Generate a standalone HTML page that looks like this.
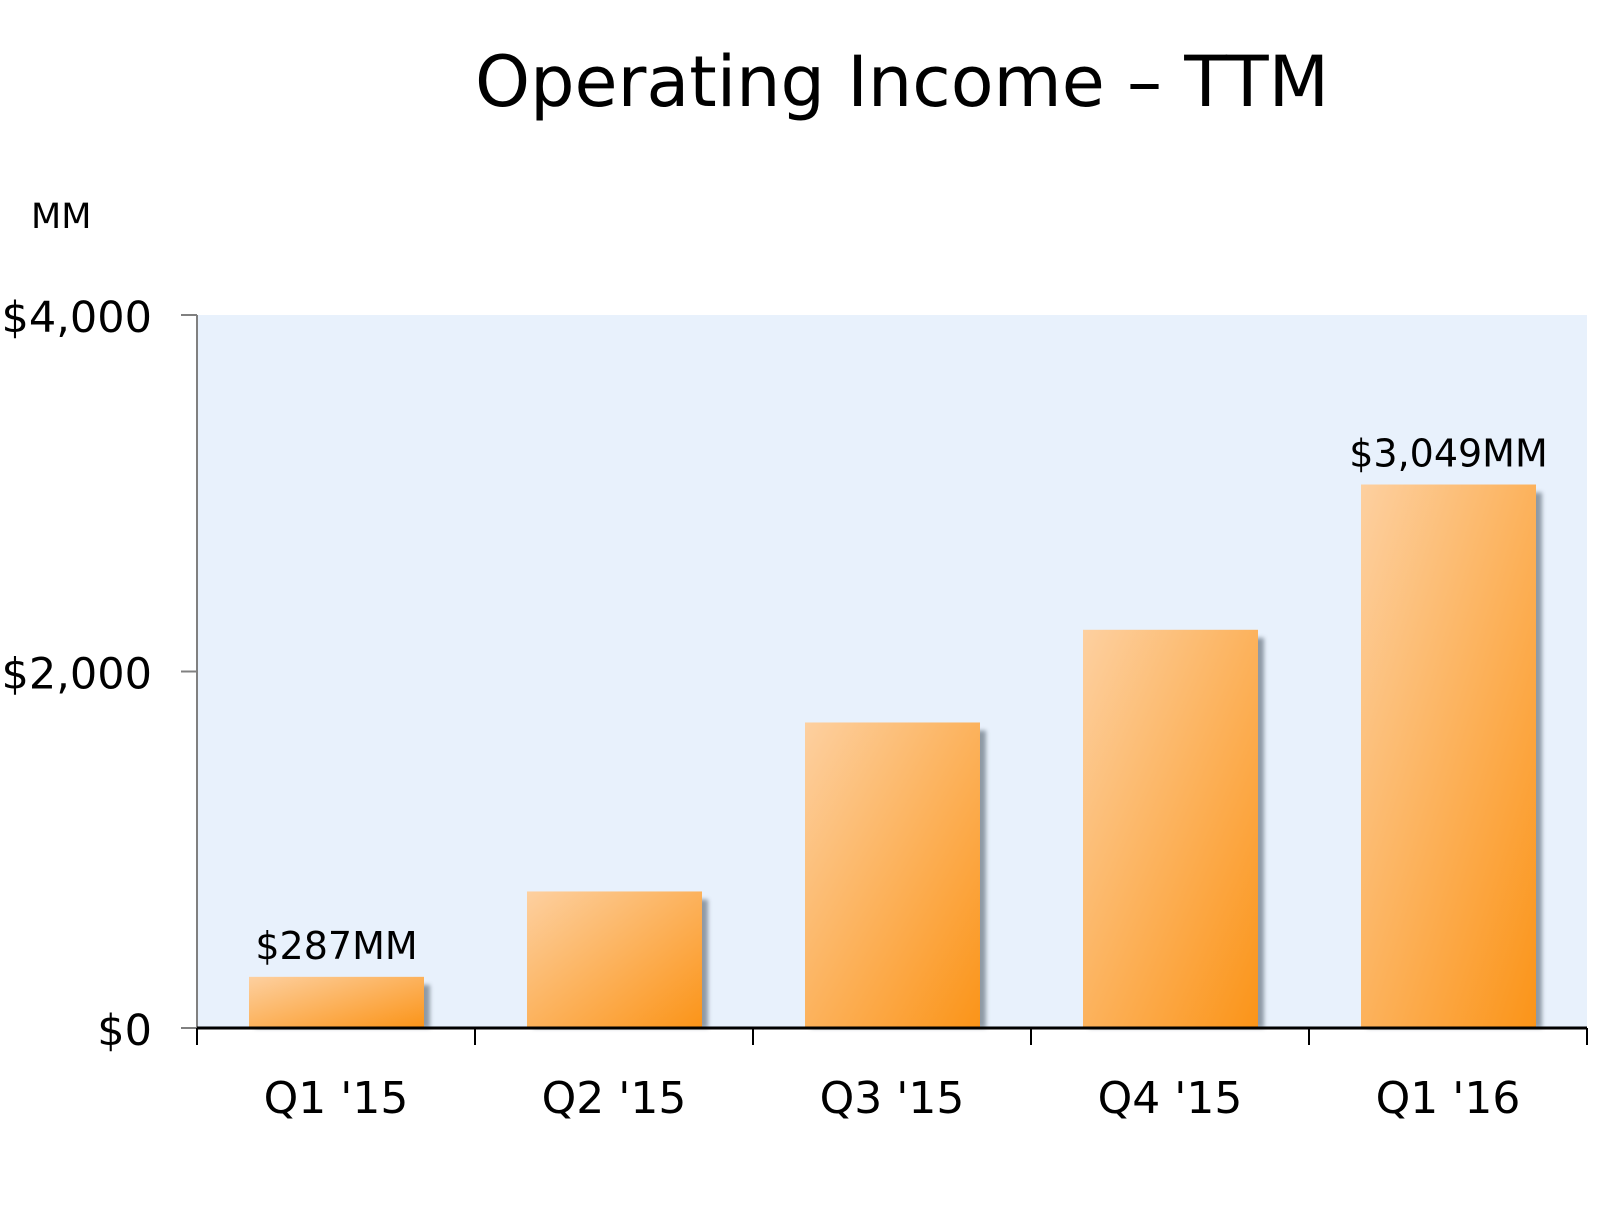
<!DOCTYPE html>
<html><head><meta charset="utf-8"><style>
body{margin:0;background:#fff;}
svg text{font-family:"DejaVu Sans","Liberation Sans",sans-serif;fill:#000;}
</style></head><body>
<svg width="1600" height="1200" viewBox="0 0 1600 1200">
<defs>
<linearGradient id="g" x1="0" y1="0" x2="1" y2="1">
<stop offset="0" stop-color="#fdd0a0"/><stop offset="1" stop-color="#fb9418"/>
</linearGradient>
<filter id="blur"><feGaussianBlur stdDeviation="2"/></filter>
</defs>
<text x="902" y="106" font-size="70" text-anchor="middle">Operating Income – TTM</text>
<text x="31" y="228" font-size="35">MM</text>
<g id="plot"></g>
</svg>
<script>
const categories=["Q1 '15","Q2 '15","Q3 '15","Q4 '15","Q1 '16"];
const values=[287,766,1714,2234,3049];
const valueLabels=["$287MM","","","","$3,049MM"];
const yTicks=[0,2000,4000];
const yTickLabels=["$0","$2,000","$4,000"];
const X0=197,X1=1587,YT=315,YB=1028,MAX=4000;
const y=v=>YB-(v/MAX)*(YB-YT);
const cw=(X1-X0)/categories.length;
const ns="http://www.w3.org/2000/svg";
const g=document.getElementById('plot');
function mk(t,a){const e=document.createElementNS(ns,t);for(const k in a)e.setAttribute(k,a[k]);g.appendChild(e);return e;}
let bg=mk('rect',{x:X0,y:YT,width:X1-X0,height:YB-YT,fill:'#e8f1fc'});


categories.forEach((c,i)=>{
  const bx=X0+i*cw+52,bw=175,top=y(values[i]);
  let s=mk('rect',{x:bx+6,y:top+8,width:bw,height:YB-top-8,fill:'#7f8a96',opacity:0.85,filter:'url(#blur)'});
  
  
  let b=mk('rect',{x:bx,y:top,width:bw,height:YB-top,fill:'url(#g)'});
  
  
  let t=mk('text',{x:X0+i*cw+cw/2,y:1113,'font-size':44,'text-anchor':'middle'});t.textContent=c;
  
  
  if(valueLabels[i]){let v=mk('text',{x:bx+bw/2,y:top-18,'font-size':38,'text-anchor':'middle'});v.textContent=valueLabels[i];
  
  }
});
let ya=mk('line',{x1:X0,y1:YT,x2:X0,y2:YB,stroke:'#808080','stroke-width':2});


yTicks.forEach((v,i)=>{
  mk('line',{x1:X0-16,y1:y(v),x2:X0,y2:y(v),stroke:'#808080','stroke-width':2});
  let t=mk('text',{x:152,y:y(v)+17,'font-size':43,'text-anchor':'end'});t.textContent=yTickLabels[i];
  
  
});
let xa=mk('line',{x1:X0,y1:YB,x2:X1,y2:YB,stroke:'#000','stroke-width':3});


for(let i=0;i<=categories.length;i++){mk('line',{x1:X0+i*cw,y1:YB,x2:X0+i*cw,y2:YB+17,stroke:'#000','stroke-width':2});}
</script>
</body></html>
